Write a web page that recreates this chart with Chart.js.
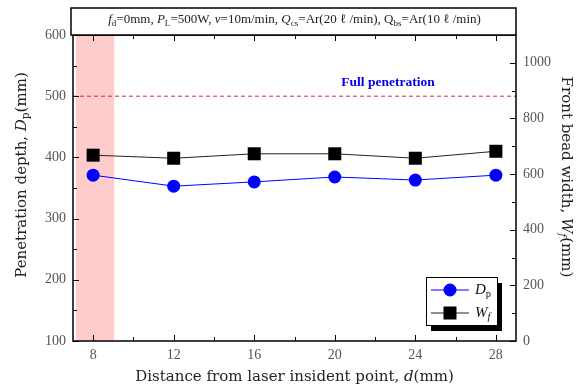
<!DOCTYPE html>
<html>
<head>
<meta charset="utf-8">
<script src="https://cdn.jsdelivr.net/npm/chart.js@4.4.1/dist/chart.umd.min.js"></script>
<style>
  html, body { margin: 0; padding: 0; background: #fff; }
  canvas { display: block; }
</style>
</head>
<body>
<canvas id="grafico" width="582" height="389"></canvas>
<script>
// distância do ponto de incidência do laser (mm)
const distancia = [8, 12, 16, 20, 24, 28];
// profundidade de penetração Dp (eixo esquerdo)
const penetracao = [371, 353, 360, 368, 363, 371];
// largura do cordão frontal Wf (eixo direito)
const larguraCordao = [668, 657, 673, 673, 657, 682];

const ticksX = [8, 12, 16, 20, 24, 28];
const ticksEsq = [100, 200, 300, 400, 500, 600];
const ticksDir = [0, 200, 400, 600, 800, 1000];

const penetracaoTotal = 500;
const faixaDestaque = [7.15, 9.05];

const FONTE = "'Liberation Serif', 'DejaVu Serif', serif";
const FONTE_TITULO = "'DejaVu Serif', 'Liberation Serif', serif";

// escreve texto com partes em itálico / subscrito
function textoRico(ctx, partes, x, y, tam, alinhar, familia) {
    const fam = familia || FONTE;
    let largura = 0;
    const medidas = partes.map(p => {
        const t = p.sub ? tam * 0.7 : tam;
        ctx.font = (p.bold ? 'bold ' : '') + (p.it ? 'italic ' : '') + t + 'px ' + fam;
        const w = ctx.measureText(p.t).width;
        largura += w;
        return { t, w };
    });
    let cx = alinhar === 'center' ? x - largura / 2 : x;
    ctx.textBaseline = 'middle';
    ctx.textAlign = 'left';
    partes.forEach((p, i) => {
        const t = medidas[i].t;
        ctx.font = (p.bold ? 'bold ' : '') + (p.it ? 'italic ' : '') + t + 'px ' + fam;
        ctx.fillText(p.t, cx, p.sub ? y + tam * 0.3 : y);
        cx += medidas[i].w;
    });
}

const pluginMoldura = {
    id: 'moldura',
    beforeDatasetsDraw(chart) {
        const { ctx, chartArea: a, scales } = chart;
        ctx.save();
        // faixa rosa
        const x0 = scales.x.getPixelForValue(faixaDestaque[0]);
        const x1 = scales.x.getPixelForValue(faixaDestaque[1]);
        ctx.fillStyle = '#ffcccc';
        ctx.fillRect(x0, a.top, x1 - x0, a.bottom - a.top);
        // linha de penetração total
        const yp = scales.y.getPixelForValue(penetracaoTotal);
        ctx.strokeStyle = '#e02828';
        ctx.lineWidth = 1;
        ctx.setLineDash([4, 3]);
        ctx.beginPath();
        ctx.moveTo(a.left, yp);
        ctx.lineTo(a.right, yp);
        ctx.stroke();
        ctx.setLineDash([]);
        ctx.fillStyle = '#0000ee';
        textoRico(ctx, [{ t: 'Full penetration', bold: true }], 388, yp - 14, 13.5, 'center');
        ctx.restore();
    },
    afterDraw(chart) {
        const { ctx, chartArea: a, scales } = chart;
        ctx.save();
        ctx.strokeStyle = '#000';
        ctx.lineWidth = 1.5;
        ctx.strokeRect(a.left, a.top, a.right - a.left, a.bottom - a.top);

        // marcas internas dos eixos
        ctx.lineWidth = 1;
        ctx.beginPath();
        for (let v = 8; v <= 28; v += 2) {
            const px = Math.round(scales.x.getPixelForValue(v)) + 0.5;
            const len = v % 4 === 0 ? 6 : 4;
            ctx.moveTo(px, a.bottom); ctx.lineTo(px, a.bottom - len);
            ctx.moveTo(px, a.top); ctx.lineTo(px, a.top + len);
        }
        for (let v = 100; v <= 600; v += 50) {
            const py = Math.round(scales.y.getPixelForValue(v)) + 0.5;
            const len = v % 100 === 0 ? 6 : 4;
            ctx.moveTo(a.left, py); ctx.lineTo(a.left + len, py);
        }
        for (let v = 0; v <= 1100; v += 100) {
            const py = Math.round(scales.y1.getPixelForValue(v)) + 0.5;
            const len = v % 200 === 0 ? 6 : 4;
            ctx.moveTo(a.right, py); ctx.lineTo(a.right - len, py);
        }
        ctx.stroke();

        // caixa de condições no topo
        ctx.fillStyle = '#fff';
        ctx.fillRect(a.left - 2, 8, a.right - a.left + 2, a.top - 8);
        ctx.lineWidth = 1.5;
        ctx.strokeRect(a.left - 2, 8, a.right - a.left + 2, a.top - 8);
        ctx.fillStyle = '#222';
        textoRico(ctx, [
            { t: 'f', it: true }, { t: 'd', sub: true }, { t: '=0mm, ' },
            { t: 'P', it: true }, { t: 'L', sub: true }, { t: '=500W, ' },
            { t: 'v', it: true }, { t: '=10m/min, ' },
            { t: 'Q', it: true }, { t: 'cs', sub: true }, { t: '=Ar(20 ℓ /min), Q' },
            { t: 'bs', sub: true }, { t: '=Ar(10 ℓ /min)' }
        ], (a.left + a.right) / 2, 20, 13, 'center');

        // títulos dos eixos
        ctx.fillStyle = '#222';
        textoRico(ctx, [{ t: 'Distance from laser insident point, ' }, { t: 'd', it: true }, { t: '(mm)' }],
            (a.left + a.right) / 2, 377, 15, 'center', FONTE_TITULO);
        ctx.save();
        ctx.translate(22, 175);
        ctx.rotate(-Math.PI / 2);
        textoRico(ctx, [{ t: 'Penetration depth, ' }, { t: 'D', it: true }, { t: 'p', sub: true }, { t: '(mm)' }],
            0, 0, 15, 'center', FONTE_TITULO);
        ctx.restore();
        ctx.save();
        ctx.translate(566, 177);
        ctx.rotate(Math.PI / 2);
        textoRico(ctx, [{ t: 'Front bead width, ' }, { t: 'W', it: true }, { t: 'f', sub: true, it: true }, { t: '(mm)' }],
            0, 0, 15, 'center', FONTE_TITULO);
        ctx.restore();

        // legenda com sombra
        const lx = 426, ly = 277, lw = 71, lh = 48;
        ctx.fillStyle = '#000';
        ctx.fillRect(lx + 5, ly + 6, lw, lh);
        ctx.fillStyle = '#fff';
        ctx.fillRect(lx, ly, lw, lh);
        ctx.lineWidth = 1;
        ctx.strokeStyle = '#000';
        ctx.strokeRect(lx + 0.5, ly + 0.5, lw, lh);
        chart.data.datasets.forEach((ds, i) => {
            const yy = ly + 13 + i * 23;
            ctx.strokeStyle = ds.borderColor;
            ctx.beginPath();
            ctx.moveTo(lx + 5, yy); ctx.lineTo(lx + 43, yy);
            ctx.stroke();
            ctx.fillStyle = ds.pointBackgroundColor;
            if (ds.pointStyle === 'circle') {
                ctx.beginPath();
                ctx.arc(lx + 24, yy, 6.5, 0, Math.PI * 2);
                ctx.fill();
            } else {
                ctx.fillRect(lx + 24 - 6.5, yy - 6.5, 13, 13);
            }
            ctx.fillStyle = '#111';
            textoRico(ctx, ds.rotulo, lx + 49, yy, 15, 'left');
        });
        ctx.restore();
    }
};

const dadosGrafico = {
    datasets: [{
        label: 'Dp',
        rotulo: [{ t: 'D', it: true }, { t: 'p', sub: true }],
        data: distancia.map((d, i) => ({ x: d, y: penetracao[i] })),
        yAxisID: 'y',
        borderColor: '#0000ff',
        borderWidth: 1,
        pointStyle: 'circle',
        pointRadius: 6.5,
        pointBackgroundColor: '#0000ff',
        pointBorderColor: '#0000ff',
        pointBorderWidth: 0
    }, {
        label: 'Wf',
        rotulo: [{ t: 'W', it: true }, { t: 'f', sub: true, it: true }],
        data: distancia.map((d, i) => ({ x: d, y: larguraCordao[i] })),
        yAxisID: 'y1',
        borderColor: '#222',
        borderWidth: 1,
        pointStyle: 'rect',
        pointRadius: 9.2,
        pointBackgroundColor: '#000',
        pointBorderColor: '#000',
        pointBorderWidth: 0
    }]
};

const fonteTicks = { family: FONTE, size: 14 };
const semMilhar = v => String(v);

new Chart(document.getElementById('grafico'), {
    type: 'line',
    data: dadosGrafico,
    options: {
        responsive: false,
        animation: false,
        devicePixelRatio: 1,
        layout: { padding: { top: 35 } },
        plugins: { legend: { display: false }, tooltip: { enabled: false } },
        scales: {
            x: {
                type: 'linear',
                min: 7,
                max: 29,
                grid: { display: false, drawTicks: false },
                border: { display: false },
                ticks: { font: fonteTicks, color: '#555', padding: 6, callback: semMilhar },
                afterBuildTicks: s => { s.ticks = ticksX.map(v => ({ value: v })); },
                afterFit: s => { s.height = 48; }
            },
            y: {
                position: 'left',
                min: 100,
                max: 600,
                grid: { display: false, drawTicks: false },
                border: { display: false },
                ticks: { font: fonteTicks, color: '#555', padding: 7, callback: semMilhar },
                afterBuildTicks: s => { s.ticks = ticksEsq.map(v => ({ value: v })); },
                afterFit: s => { s.width = 73; }
            },
            y1: {
                position: 'right',
                min: 0,
                max: 1100,
                grid: { display: false, drawTicks: false },
                border: { display: false },
                ticks: { font: fonteTicks, color: '#555', padding: 7, callback: semMilhar },
                afterBuildTicks: s => { s.ticks = ticksDir.map(v => ({ value: v })); },
                afterFit: s => { s.width = 66; }
            }
        }
    },
    plugins: [pluginMoldura]
});
</script>
</body>
</html>
